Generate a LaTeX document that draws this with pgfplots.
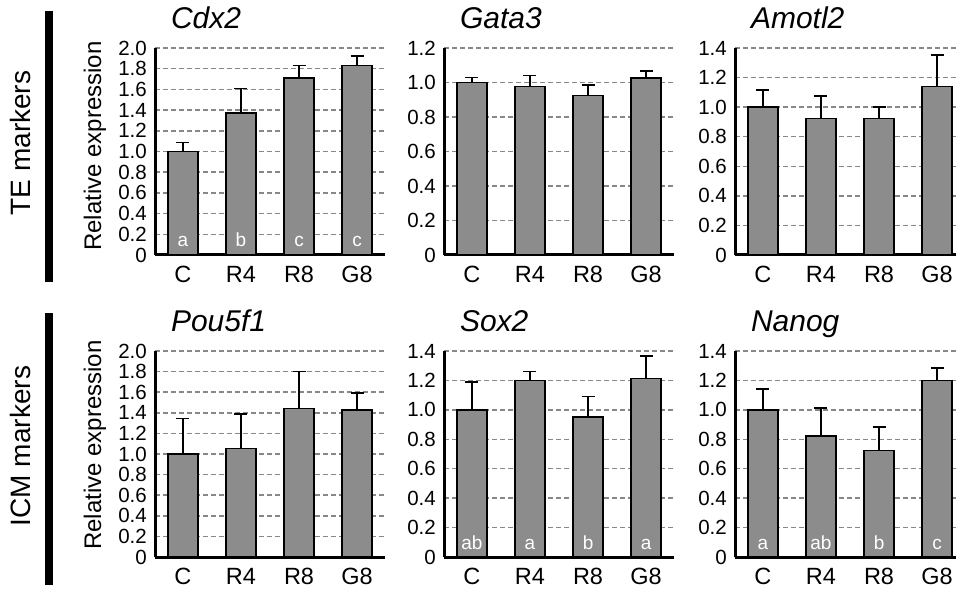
\documentclass[border=0pt]{standalone}
\usepackage{fontspec}
\setmainfont{Liberation Sans}
\usepackage{pgfplots}
\pgfplotsset{compat=1.18}
\definecolor{bargray}{RGB}{140,140,140}
\definecolor{gridgray}{RGB}{135,135,135}
\newcommand{\titlefont}{\fontsize{30}{34}\selectfont\itshape}
\newcommand{\tickfont}{\fontsize{20.5}{24}\selectfont}
\newcommand{\xtickfont}{\fontsize{23.5}{27}\selectfont}
\newcommand{\labfont}{\fontsize{24}{28}\selectfont}
\newcommand{\rowfont}{\fontsize{28}{32}\selectfont}
\newcommand{\letfont}{\fontsize{19}{22}\selectfont}
\pgfplotsset{
  panel/.style={
    scale only axis, width=230pt,
    xmin=-0.48, xmax=3.48, ymin=0,
    axis x line*=bottom, axis y line*=left,
    axis line style={line width=3pt, black},
    major tick length=0pt,
    xtick={0,1,2,3}, xticklabels={C,R4,R8,G8},
    xticklabel style={font=\xtickfont, anchor=north, inner sep=0pt, yshift=-11pt},
    yticklabel style={font=\tickfont, anchor=east, inner sep=0pt, xshift=-8pt},
    /pgf/number format/assume math mode=true,
    ymajorgrids, grid style={gridgray, line width=1.5pt, dash pattern=on 5pt off 3pt},
    title style={at={(0,1)}, anchor=base west, xshift=12.5pt, yshift=13pt, font=\titlefont},
    clip=false,
    anchor=south west,
  },
  bars/.style={ybar, bar width=30pt, fill=bargray, draw=black, line width=1.5pt,
    error bars/.cd, y dir=plus, y explicit,
    error bar style={line width=1.6pt, black},
    error mark options={rotate=90, mark size=6.5pt, line width=1.6pt, black}},
  letters/.style={draw=none, mark=none, nodes near coords, point meta=explicit symbolic,
    nodes near coords style={white, font=\letfont, anchor=base, inner sep=0pt, yshift=8pt}},
}
\begin{document}
\begin{tikzpicture}
% row labels and black bars
\fill[black] (45pt,310pt) rectangle (53pt,581pt);
\fill[black] (45pt,7pt) rectangle (53pt,279pt);
\node[rotate=90, anchor=base, font=\rowfont, inner sep=0pt] at (30pt,449pt) {TE markers};
\node[rotate=90, anchor=base, font=\rowfont, inner sep=0pt] at (30pt,146pt) {ICM markers};
\node[rotate=90, anchor=base, font=\labfont, inner sep=0pt] at (101pt,446pt) {Relative expression};
\node[rotate=90, anchor=base, font=\labfont, inner sep=0pt] at (101pt,147pt) {Relative expression};

% Row 1
\begin{axis}[panel, at={(155pt,337pt)}, height=207pt, ymax=2.0,
  ytick={0,0.2,0.4,0.6,0.8,1.0,1.2,1.4,1.6,1.8,2.0},
  yticklabels={0,0.2,0.4,0.6,0.8,1.0,1.2,1.4,1.6,1.8,2.0},
  title={Cdx2}]
\addplot[bars] coordinates {(0,1.00) +- (0,0.085) (1,1.37) +- (0,0.24) (2,1.71) +- (0,0.12) (3,1.83) +- (0,0.09)};
\addplot[letters] coordinates {(0,0)[a] (1,0)[b] (2,0)[c] (3,0)[c]};
\end{axis}
\begin{axis}[panel, at={(444pt,337pt)}, height=207pt, ymax=1.2,
  ytick={0,0.2,0.4,0.6,0.8,1.0,1.2},
  yticklabels={0,0.2,0.4,0.6,0.8,1.0,1.2},
  title={Gata3}]
\addplot[bars] coordinates {(0,1.00) +- (0,0.03) (1,0.977) +- (0,0.063) (2,0.925) +- (0,0.06) (3,1.025) +- (0,0.04)};
\end{axis}
\begin{axis}[panel, at={(735pt,337pt)}, height=207pt, ymax=1.4,
  ytick={0,0.2,0.4,0.6,0.8,1.0,1.2,1.4},
  yticklabels={0,0.2,0.4,0.6,0.8,1.0,1.2,1.4},
  title={Amotl2}]
\addplot[bars] coordinates {(0,1.00) +- (0,0.116) (1,0.924) +- (0,0.153) (2,0.924) +- (0,0.076) (3,1.138) +- (0,0.214)};
\end{axis}

% Row 2
\begin{axis}[panel, at={(155pt,35pt)}, height=206pt, ymax=2.0,
  ytick={0,0.2,0.4,0.6,0.8,1.0,1.2,1.4,1.6,1.8,2.0},
  yticklabels={0,0.2,0.4,0.6,0.8,1.0,1.2,1.4,1.6,1.8,2.0},
  title={Pou5f1}]
\addplot[bars] coordinates {(0,1.00) +- (0,0.346) (1,1.051) +- (0,0.34) (2,1.443) +- (0,0.359) (3,1.427) +- (0,0.168)};
\end{axis}
\begin{axis}[panel, at={(444pt,35pt)}, height=206pt, ymax=1.4,
  ytick={0,0.2,0.4,0.6,0.8,1.0,1.2,1.4},
  yticklabels={0,0.2,0.4,0.6,0.8,1.0,1.2,1.4},
  title={Sox2}]
\addplot[bars] coordinates {(0,1.00) +- (0,0.19) (1,1.20) +- (0,0.062) (2,0.952) +- (0,0.14) (3,1.212) +- (0,0.156)};
\addplot[letters] coordinates {(0,0)[ab] (1,0)[a] (2,0)[b] (3,0)[a]};
\end{axis}
\begin{axis}[panel, at={(735pt,35pt)}, height=206pt, ymax=1.4,
  ytick={0,0.2,0.4,0.6,0.8,1.0,1.2,1.4},
  yticklabels={0,0.2,0.4,0.6,0.8,1.0,1.2,1.4},
  title={Nanog}]
\addplot[bars] coordinates {(0,1.00) +- (0,0.142) (1,0.823) +- (0,0.188) (2,0.725) +- (0,0.157) (3,1.201) +- (0,0.084)};
\addplot[letters] coordinates {(0,0)[a] (1,0)[ab] (2,0)[b] (3,0)[c]};
\end{axis}

\pgfresetboundingbox
\path[use as bounding box] (0pt,0pt) rectangle (956pt,592pt);
\end{tikzpicture}
\end{document}
